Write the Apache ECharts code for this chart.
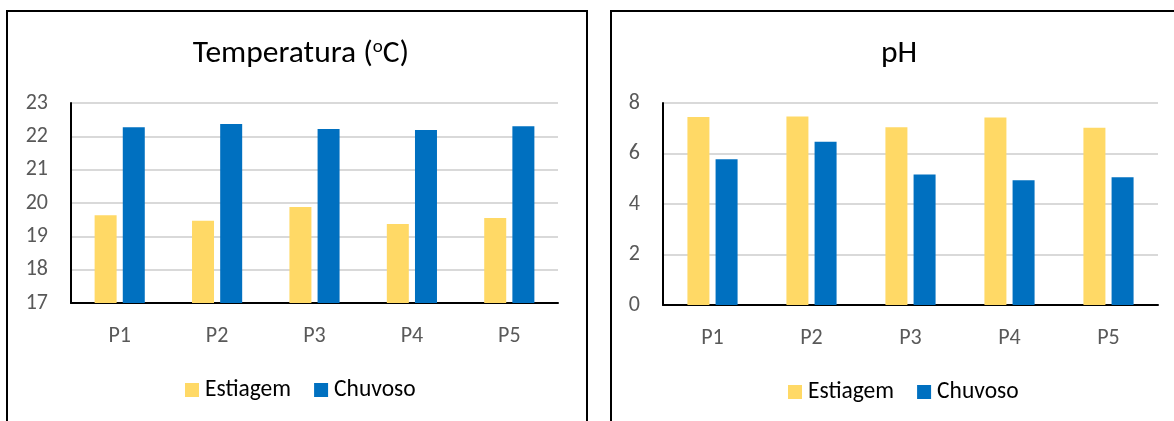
<!DOCTYPE html>
<html>
<head>
<meta charset="utf-8">
<script src="https://cdn.jsdelivr.net/npm/echarts@6/dist/echarts.min.js"></script>
<style>
  html, body { margin: 0; padding: 0; background: #fff; }
  #chart { width: 1174px; height: 421px; }
</style>
</head>
<body>
<div id="chart"></div>
<script>
// Sampling points
const points = ['P1', 'P2', 'P3', 'P4', 'P5'];
const seasons = ['Estiagem', 'Chuvoso'];

// Water temperature (°C) per sampling point
const tempEstiagem = [19.63, 19.47, 19.88, 19.37, 19.55];
const tempChuvoso = [22.27, 22.37, 22.22, 22.19, 22.30];

// pH per sampling point
const phEstiagem = [7.45, 7.47, 7.04, 7.43, 7.02];
const phChuvoso = [5.77, 6.47, 5.17, 4.94, 5.06];

const FONT = 'Carlito, Calibri, Lato, sans-serif';
const YELLOW = '#FFD966';
const BLUE = '#0070C0';
const GRID_LINE = '#D9D9D9';
const TICK_TEXT = '#595959';

const chart = echarts.init(document.getElementById('chart'), null, { renderer: 'canvas' });

function xAxisFor(gridIndex, margin) {
  return {
    type: 'category',
    gridIndex: gridIndex,
    data: points,
    axisLine: { show: true, lineStyle: { color: '#000', width: 2 } },
    axisTick: { show: false },
    axisLabel: { color: TICK_TEXT, fontSize: 22, fontFamily: FONT, margin: margin }
  };
}

function yAxisFor(gridIndex, min, max, interval) {
  return {
    type: 'value',
    gridIndex: gridIndex,
    min: min,
    max: max,
    interval: interval,
    axisLine: { show: true, lineStyle: { color: '#000', width: 2 } },
    axisTick: { show: false },
    axisLabel: { color: TICK_TEXT, fontSize: 22, fontFamily: FONT, margin: 23 },
    splitLine: { show: true, lineStyle: { color: GRID_LINE, width: 2 } }
  };
}

function barSeries(name, data, color, axisIndex) {
  return {
    type: 'bar',
    name: name,
    data: data,
    xAxisIndex: axisIndex,
    yAxisIndex: axisIndex,
    barWidth: 22,
    barGap: '28%',
    itemStyle: { color: color },
    emphasis: { disabled: true }
  };
}

function legendAt(left, top) {
  return {
    data: seasons,
    left: left,
    top: top,
    orient: 'horizontal',
    icon: 'rect',
    itemWidth: 14,
    itemHeight: 14,
    itemGap: 23,
    padding: 0,
    textStyle: { color: '#000', fontSize: 23.5, fontFamily: FONT, padding: [0, 0, 0, 1] },
    selectedMode: false
  };
}

const option = {
  animation: false,
  backgroundColor: '#fff',
  title: [
    {
      text: 'Temperatura ({sup|o}C)',
      left: 301,
      top: 38,
      textAlign: 'center',
      padding: 0,
      textStyle: {
        color: '#000', fontSize: 31.5, fontWeight: 'normal', fontFamily: FONT,
        rich: {
          sup: { fontSize: 19, fontFamily: FONT, color: '#000', verticalAlign: 'top', padding: [0, 0, 12, 0] }
        }
      }
    },
    {
      text: 'pH',
      left: 899,
      top: 38,
      textAlign: 'center',
      padding: 0,
      textStyle: { color: '#000', fontSize: 31.5, fontWeight: 'normal', fontFamily: FONT }
    }
  ],
  legend: [legendAt(185, 378), legendAt(788, 380)],
  grid: [
    { left: 71, top: 103, width: 487, height: 200, containLabel: false },
    { left: 663, top: 103, width: 495, height: 202, containLabel: false }
  ],
  xAxis: [xAxisFor(0, 22), xAxisFor(1, 22)],
  yAxis: [yAxisFor(0, 17, 23, 1), yAxisFor(1, 0, 8, 2)],
  series: [
    barSeries('Estiagem', tempEstiagem, YELLOW, 0),
    barSeries('Chuvoso', tempChuvoso, BLUE, 0),
    barSeries('Estiagem', phEstiagem, YELLOW, 1),
    barSeries('Chuvoso', phChuvoso, BLUE, 1)
  ],
  // Panel frames around each chart
  graphic: [
    { type: 'rect', shape: { x: 7, y: 11, width: 580, height: 420 },
      style: { fill: 'none', stroke: '#000', lineWidth: 2 }, silent: true, z: -1 },
    { type: 'rect', shape: { x: 611, y: 11, width: 580, height: 420 },
      style: { fill: 'none', stroke: '#000', lineWidth: 2 }, silent: true, z: -1 }
  ]
};

chart.setOption(option);
</script>
</body>
</html>
